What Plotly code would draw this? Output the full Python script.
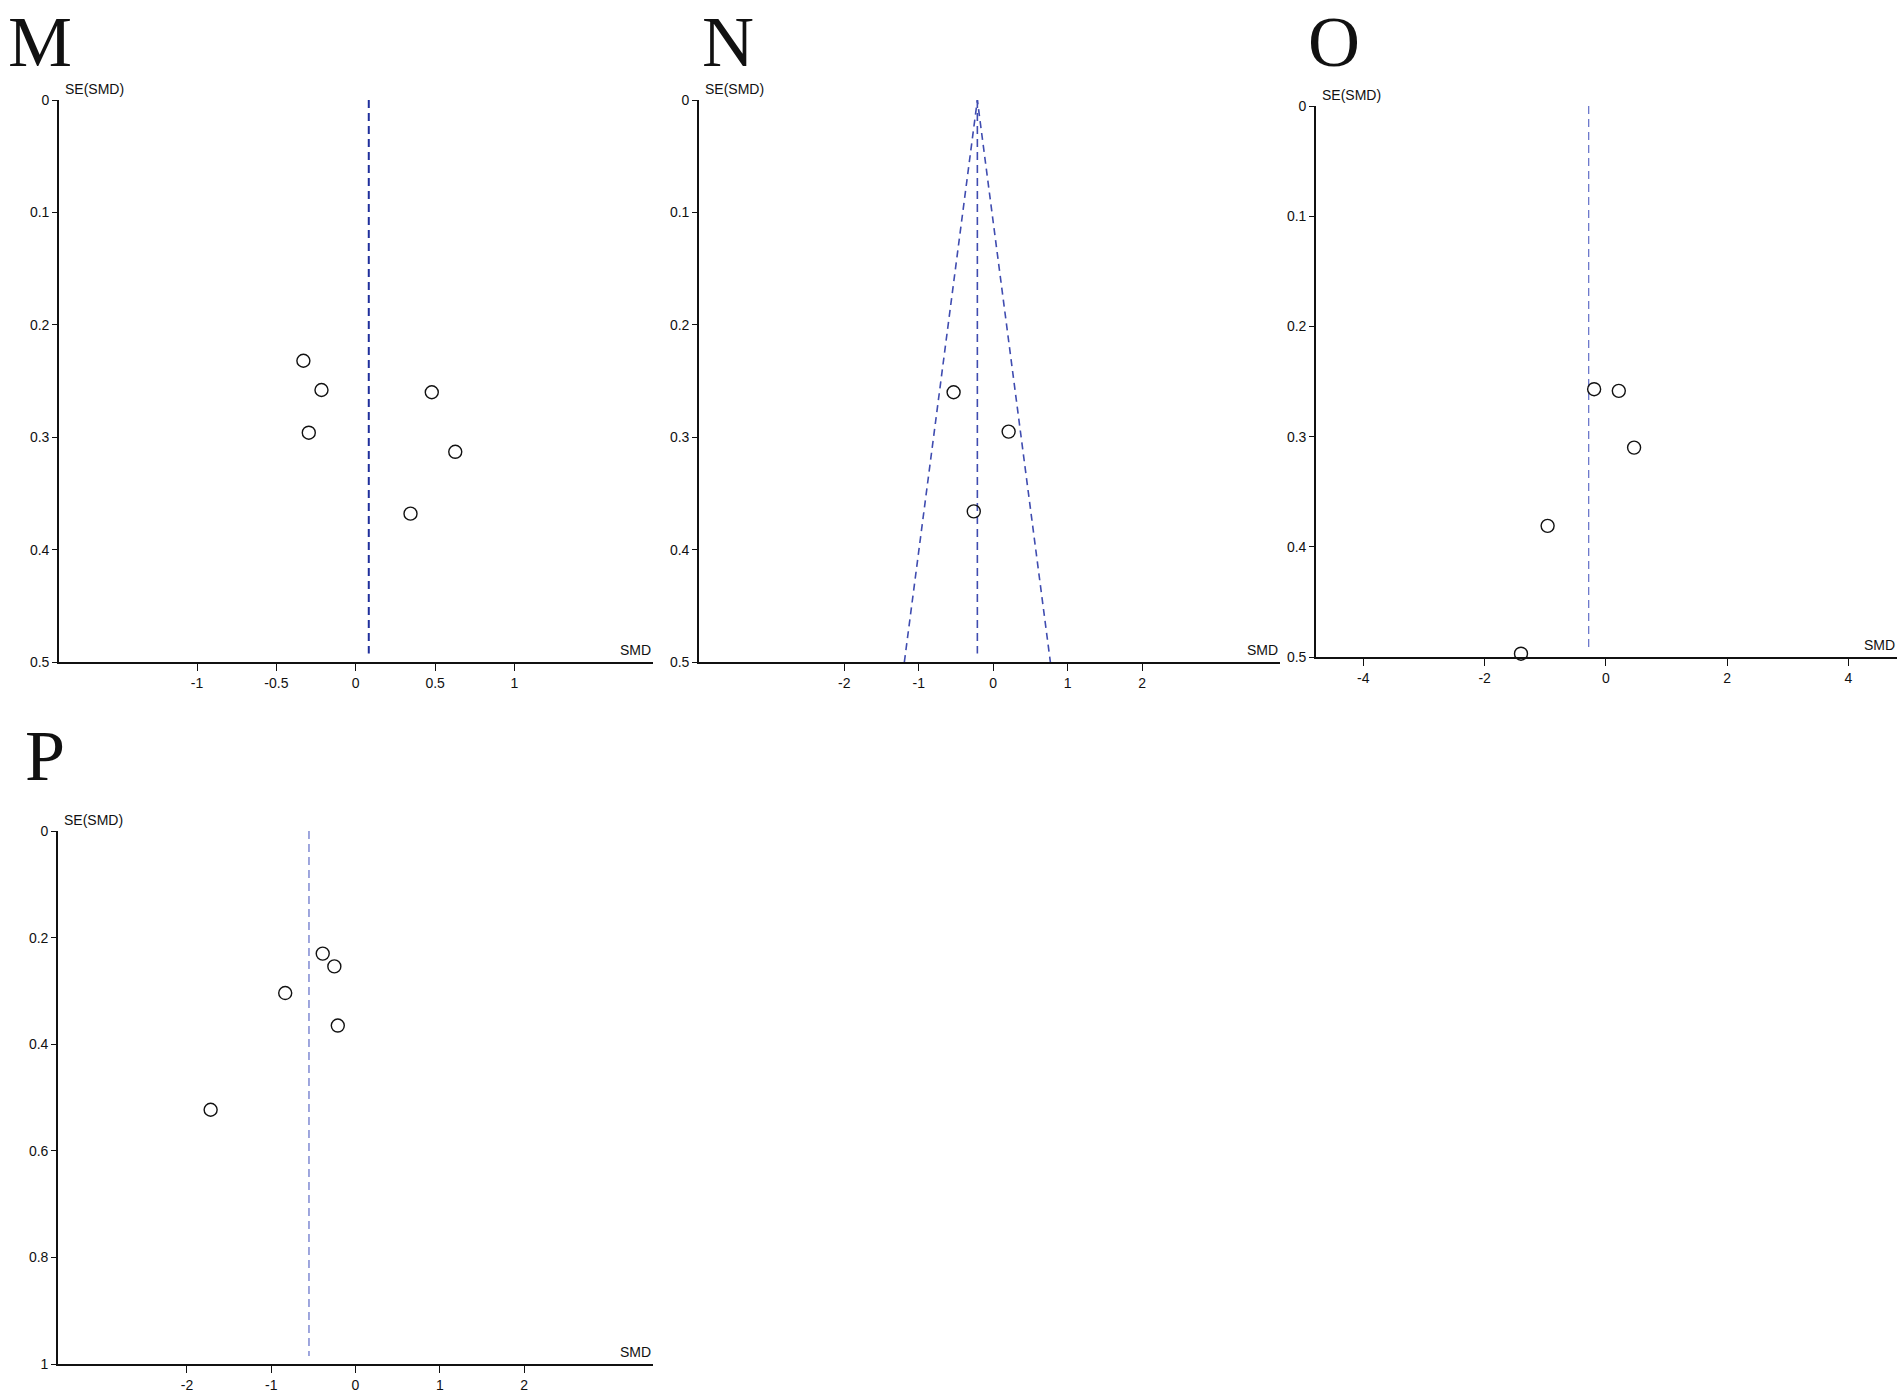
import plotly.graph_objects as go

W, H = 1902, 1394

# ---------------- data ----------------
M_smd = [-0.33, -0.216, -0.296, 0.479, 0.627, 0.345]
M_se = [0.232, 0.258, 0.296, 0.260, 0.313, 0.368]
M_pooled = 0.082

N_smd = [-0.532, 0.207, -0.261]
N_se = [0.260, 0.295, 0.366]
N_pooled = -0.213

O_smd = [-0.194, 0.213, 0.465, -0.961, -1.40]
O_se = [0.257, 0.2585, 0.310, 0.381, 0.497]
O_pooled = -0.284

P_smd = [-0.389, -0.251, -0.834, -0.210, -1.719]
P_se = [0.230, 0.254, 0.304, 0.365, 0.523]
P_pooled = -0.552

M_xticks = [-1, -0.5, 0, 0.5, 1]
N_xticks = [-2, -1, 0, 1, 2]
O_xticks = [-4, -2, 0, 2, 4]
P_xticks = [-2, -1, 0, 1, 2]
M_yticks = [0, 0.1, 0.2, 0.3, 0.4, 0.5]
N_yticks = [0, 0.1, 0.2, 0.3, 0.4, 0.5]
O_yticks = [0, 0.1, 0.2, 0.3, 0.4, 0.5]
P_yticks = [0, 0.2, 0.4, 0.6, 0.8, 1]

# ---------------- layout helpers ----------------
def fx(px):
    return px / W

def fy(py):
    return 1 - py / H

TICKFONT = dict(family="Liberation Sans Narrow, Arial Narrow, Liberation Sans, Arial, sans-serif",
                size=14, color="#111")
LETTERFONT = dict(family="Liberation Serif, Times New Roman, DejaVu Serif, serif", size=72, color="#111")

panels = [
    # name, smd, se, pooled, xrange, yrange, xticks, yticks, box(l,r,t,b), line color, line width, funnel
    ("M", M_smd, M_se, M_pooled, [-1.87, 1.873], [0.5, 0], M_xticks, M_yticks,
     (59, 653, 100, 662), "#1f2f9c", 2.0, False),
    ("N", N_smd, N_se, N_pooled, [-3.95, 3.85], [0.5, 0], N_xticks, N_yticks,
     (699, 1280, 100, 662), "#3f4cb0", 1.6, True),
    ("O", O_smd, O_se, O_pooled, [-4.78, 4.8], [0.5, 0], O_xticks, O_yticks,
     (1316, 1897, 106, 657), "#6c78cc", 1.3, False),
    ("P", P_smd, P_se, P_pooled, [-3.53, 3.53], [1, 0], P_xticks, P_yticks,
     (58, 653, 831, 1364), "#6c78cc", 1.3, False),
]

# (x centre, y, anchor)
letter_pos = {"M": (39.5, 0, "top"), "N": (727.5, 0, "top"), "O": (1334, 0, "top"),
              "P": (45, 756, "middle")}

fig = go.Figure()
annotations = []
layout_axes = {}

for i, (name, smd, se, pooled, xr, yr, xt, yt, box, lc, lw, funnel) in enumerate(panels):
    idx = "" if i == 0 else str(i + 1)
    xa, ya = "x" + idx, "y" + idx
    l, r, t, b = box
    ymax = yr[0]

    if funnel:
        fig.add_trace(go.Scatter(
            x=[pooled - 1.96 * ymax, pooled, pooled + 1.96 * ymax], y=[ymax, 0, ymax],
            mode="lines", line=dict(color=lc, width=lw, dash="7px,5px"),
            xaxis=xa, yaxis=ya, showlegend=False, hoverinfo="skip"))

    fig.add_trace(go.Scatter(
        x=[pooled, pooled], y=[0, ymax * 0.985], mode="lines",
        line=dict(color=lc, width=lw, dash="8px,5px"),
        xaxis=xa, yaxis=ya, showlegend=False, hoverinfo="skip"))

    fig.add_trace(go.Scatter(
        x=smd, y=se, mode="markers",
        marker=dict(symbol="circle-open", size=13, color="#111", line=dict(width=1.4, color="#111")),
        xaxis=xa, yaxis=ya, showlegend=False, cliponaxis=False))

    layout_axes["xaxis" + idx] = dict(
        domain=[fx(l), fx(r)], range=xr, anchor=ya,
        showline=True, linecolor="#111", linewidth=1.6,
        showgrid=False, zeroline=False, automargin=False,
        tickmode="array", tickvals=xt, ticktext=[("%g" % v) for v in xt],
        ticks="outside", ticklen=7, tickwidth=1.3, tickcolor="#111",
        tickfont=TICKFONT, fixedrange=True)
    layout_axes["yaxis" + idx] = dict(
        domain=[fy(b), fy(t)], range=yr, anchor=xa,
        showline=True, linecolor="#111", linewidth=1.6,
        showgrid=False, zeroline=False, automargin=False,
        tickmode="array", tickvals=yt, ticktext=[("%g" % v) for v in yt],
        ticks="outside", ticklen=5, tickwidth=1.3, tickcolor="#111",
        tickfont=TICKFONT, fixedrange=True)

    annotations.append(dict(
        text="SE(SMD)", x=fx(l + 4), y=fy(t - 1), xref="paper", yref="paper",
        xanchor="left", yanchor="bottom", showarrow=False, font=TICKFONT))
    annotations.append(dict(
        text="SMD", x=fx(r), y=fy(b - 2), xref="paper", yref="paper",
        xanchor="right", yanchor="bottom", showarrow=False, font=TICKFONT))
    lx, ly, anc = letter_pos[name]
    annotations.append(dict(
        text=name, x=fx(lx), y=fy(ly), xref="paper", yref="paper",
        xanchor="center", yanchor=anc, showarrow=False, font=LETTERFONT))

fig.update_layout(
    width=W, height=H, margin=dict(l=0, r=0, t=0, b=0),
    paper_bgcolor="white", plot_bgcolor="white", showlegend=False,
    annotations=annotations, **layout_axes)

fig.write_html("out.html",
               config={"displayModeBar": False},
               post_script="document.body.style.margin='0';document.body.style.overflow='hidden';")
